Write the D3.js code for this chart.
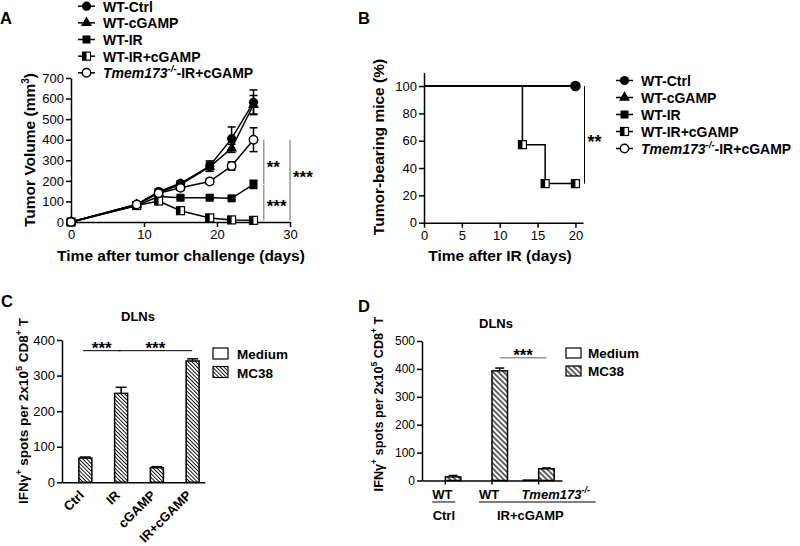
<!DOCTYPE html>
<html>
<head>
<meta charset="utf-8">
<script src="https://cdn.jsdelivr.net/npm/d3@7"></script>
<style>
  body { margin: 0; background: #fff; }
  svg { font-family: Arial, "Liberation Sans", sans-serif; }
</style>
</head>
<body>
<svg id="fig" width="800" height="546"></svg>
<script>
// ---- panel A: tumor volume over time ----
const tumorDays = [0, 9, 12, 15, 19, 22, 25];
const groupNames = ['WT-Ctrl', 'WT-cGAMP', 'WT-IR', 'WT-IR+cGAMP', 'Tmem173-/--IR+cGAMP'];
const wtCtrlVol = [0, 85, 148, 188, 272, 405, 582];
const wtCtrlErr = [0, 12, 14, 12, 25, 57, 60];
const wtCgampVol = [0, 85, 142, 182, 268, 358, 570];
const wtCgampErr = [0, 10, 12, 14, 22, 20, 45];
const wtIrVol = [0, 80, 124, 118, 118, 115, 183];
const wtIrErr = [0, 10, 10, 8, 8, 8, 20];
const wtIrCgampVol = [0, 80, 102, 55, 20, 10, 8];
const wtIrCgampErr = [0, 10, 10, 8, 8, 5, 5];
const tmemVol = [0, 85, 140, 166, 197, 272, 400];
const tmemErr = [0, 10, 12, 12, 12, 20, 58];
const markerTypes = ['circle', 'triangle', 'square', 'halfSquare', 'openCircle'];

// ---- panel B: tumor-bearing mice (%) ----
const survCtrlDays = [0, 20];
const survCtrl = [100, 100];
const survCgampDays = [0, 20];
const survCgamp = [100, 100];
const survIrDays = [0, 20];
const survIr = [100, 100];
const survIrCgampDays = [0, 13, 16, 20];
const survIrCgamp = [100, 57.1, 28.6, 28.6];
const survTmemDays = [0, 20];
const survTmem = [100, 100];

// ---- panel C: ELISPOT, DLNs ----
const cGroups = ['Ctrl', 'IR', 'cGAMP', 'IR+cGAMP'];
const cMedium = [0, 0, 0, 0];
const cMc38 = [68, 250, 41, 341];
const cMc38Err = [3, 17, 3, 6];

// ---- panel D: ELISPOT, DLNs by genotype ----
const dGroups = ['WT|Ctrl', 'WT|IR+cGAMP', 'Tmem173|IR+cGAMP'];
const dMedium = [0, 0, 2];
const dMc38 = [13, 393, 42];
const dMc38Err = [5, 10, 3];

const svg = d3.select('#fig');
const defs = svg.append('defs');

const hatch = (id, step, sw) => {
  const p = defs.append('pattern')
    .attr('id', id)
    .attr('patternUnits', 'userSpaceOnUse')
    .attr('width', step)
    .attr('height', step)
    .attr('patternTransform', 'rotate(-45)');
  p.append('rect').attr('width', step).attr('height', step).attr('fill', '#fff');
  p.append('line')
    .attr('x1', step / 2).attr('x2', step / 2)
    .attr('y1', 0).attr('y2', step)
    .attr('stroke', '#000').attr('stroke-width', sw);
};
hatch('hatchC', 2.7, 0.9);
hatch('hatchD', 3.8, 1.2);

const styleAxis = (g, size) => {
  g.attr('font-family', 'Arial, "Liberation Sans", sans-serif').attr('font-size', size);
  g.select('.domain').attr('stroke', '#000').attr('stroke-width', 1.5);
  g.selectAll('.tick line').attr('stroke', '#000').attr('stroke-width', 1.5);
  g.selectAll('.tick text').attr('fill', '#000');
};

const marker = (g, type, x, y) => {
  if (type === 'circle') {
    g.append('circle').attr('cx', x).attr('cy', y).attr('r', 4.6).attr('fill', '#000');
  } else if (type === 'openCircle') {
    g.append('circle').attr('cx', x).attr('cy', y).attr('r', 4.2)
      .attr('fill', '#fff').attr('stroke', '#000').attr('stroke-width', 1.5);
  } else if (type === 'triangle') {
    g.append('path')
      .attr('d', d3.symbol(d3.symbolTriangle, 52)())
      .attr('transform', `translate(${x},${y})`)
      .attr('fill', '#000');
  } else if (type === 'square') {
    g.append('rect').attr('x', x - 4).attr('y', y - 4).attr('width', 8).attr('height', 8).attr('fill', '#000');
  } else {
    g.append('rect').attr('x', x - 4).attr('y', y - 4).attr('width', 8).attr('height', 8)
      .attr('fill', '#fff').attr('stroke', '#000').attr('stroke-width', 1.2);
    g.append('rect').attr('x', x - 4).attr('y', y - 4).attr('width', 4).attr('height', 8).attr('fill', '#000');
  }
};

// group label, with Tmem173 in italics and -/- as superscript
const groupLabel = (text, name, supSize) => {
  if (name.startsWith('Tmem173')) {
    text.append('tspan').attr('font-style', 'italic').text('Tmem173');
    text.append('tspan').attr('font-style', 'italic').attr('font-size', supSize).attr('dy', -6).text('-/-');
    const rest = name.slice('Tmem173-/-'.length);
    if (rest) text.append('tspan').attr('dy', 6).text(rest);
  } else {
    text.text(name);
  }
};

const label = (x, y, str, size, opts = {}) => svg.append('text')
  .attr('x', x).attr('y', y)
  .attr('font-size', size)
  .attr('font-weight', opts.weight || 'bold')
  .attr('text-anchor', opts.anchor || 'start')
  .attr('fill', '#000')
  .text(str);

const rotLabel = (cx, cy, size) => svg.append('text')
  .attr('transform', `translate(${cx},${cy}) rotate(-90)`)
  .attr('text-anchor', 'middle')
  .attr('font-size', size)
  .attr('font-weight', 'bold');

const legend = (x, y0, dy) => {
  groupNames.forEach((name, i) => {
    const y = y0 + i * dy;
    const g = svg.append('g');
    g.append('line').attr('x1', x).attr('x2', x + 17).attr('y1', y - 5.5).attr('y2', y - 5.5)
      .attr('stroke', '#000').attr('stroke-width', 1.5);
    marker(g, markerTypes[i], x + 8.5, y - 5.5);
    const t = g.append('text').attr('x', x + 25).attr('y', y)
      .attr('font-size', 14).attr('font-weight', 'bold');
    groupLabel(t, name, 9.5);
  });
};

// ================= A =================
{
  const xA = d3.scaleLinear().domain([0, 30]).range([71, 290]);
  const yA = d3.scaleLinear().domain([0, 700]).range([222, 78]);

  svg.append('g').attr('transform', 'translate(0,222)')
    .call(d3.axisBottom(xA).tickValues([0, 10, 20, 30]).tickSize(5).tickSizeOuter(0).tickPadding(3))
    .call(g => styleAxis(g, 13));
  svg.append('g').attr('transform', 'translate(71,0)')
    .call(d3.axisLeft(yA).tickValues(d3.range(0, 701, 100)).tickSize(5).tickSizeOuter(0).tickPadding(2))
    .call(g => styleAxis(g, 13));

  const series = [
    { vol: wtCtrlVol, err: wtCtrlErr },
    { vol: wtCgampVol, err: wtCgampErr },
    { vol: wtIrVol, err: wtIrErr },
    { vol: wtIrCgampVol, err: wtIrCgampErr },
    { vol: tmemVol, err: tmemErr },
  ];
  const line = d3.line().x((d, i) => xA(tumorDays[i])).y(d => yA(d));
  const plot = svg.append('g');
  series.forEach(s => {
    plot.append('path').attr('d', line(s.vol)).attr('fill', 'none')
      .attr('stroke', '#000').attr('stroke-width', 1.5);
    s.vol.forEach((v, i) => {
      if (!s.err[i]) return;
      const x = xA(tumorDays[i]);
      const lo = yA(Math.max(0, v - s.err[i]));
      const hi = yA(v + s.err[i]);
      plot.append('line').attr('x1', x).attr('x2', x).attr('y1', lo).attr('y2', hi)
        .attr('stroke', '#000').attr('stroke-width', 1.5);
      [lo, hi].forEach(yy => plot.append('line').attr('x1', x - 4).attr('x2', x + 4)
        .attr('y1', yy).attr('y2', yy).attr('stroke', '#000').attr('stroke-width', 1.5));
    });
  });
  series.forEach((s, k) => {
    s.vol.forEach((v, i) => marker(plot, markerTypes[k], xA(tumorDays[i]), yA(v)));
  });

  // significance brackets (label baseline given in data units)
  const brackets = [
    { x: 26.4, from: 400, to: 186, at: 240, text: '**' },
    { x: 26.4, from: 180, to: 8, at: 51, text: '***' },
    { x: 30, from: 400, to: 8, at: 190, text: '***' },
  ];
  brackets.forEach(b => {
    svg.append('line').attr('x1', xA(b.x)).attr('x2', xA(b.x))
      .attr('y1', yA(b.from)).attr('y2', yA(b.to))
      .attr('stroke', '#999').attr('stroke-width', 1.5);
    label(xA(b.x) + 3, yA(b.at), b.text, 17);
  });

  label(0, 23.5, 'A', 16.5);
  legend(78, 11.7, 16.65);

  const yl = rotLabel(35, 150, 15.5);
  yl.append('tspan').text('Tumor Volume (mm');
  yl.append('tspan').attr('font-size', 10).attr('dy', -6).text('3');
  yl.append('tspan').attr('dy', 6).text(')');
  label(181, 261, 'Time after tumor challenge (days)', 15.5, { anchor: 'middle' });
}

// ================= B =================
{
  const xB = d3.scaleLinear().domain([0, 21]).range([424, 583]);
  const yB = d3.scaleLinear().domain([0, 110]).range([222.7, 72.4]);

  svg.append('g').attr('transform', 'translate(0,222.7)')
    .call(d3.axisBottom(xB).tickValues([0, 5, 10, 15, 20]).tickSize(5).tickSizeOuter(0).tickPadding(3))
    .call(g => styleAxis(g, 13));
  svg.append('g').attr('transform', 'translate(424,0)')
    .call(d3.axisLeft(yB).tickValues(d3.range(0, 101, 20)).tickSize(5).tickSizeOuter(0).tickPadding(2))
    .call(g => styleAxis(g, 13));

  const curves = [
    { days: survTmemDays, pct: survTmem, m: 4 },
    { days: survIrCgampDays, pct: survIrCgamp, m: 3 },
    { days: survIrDays, pct: survIr, m: 2 },
    { days: survCgampDays, pct: survCgamp, m: 1 },
    { days: survCtrlDays, pct: survCtrl, m: 0 },
  ];
  const step = d3.line().curve(d3.curveStepAfter)
    .x(d => xB(d[0])).y(d => yB(d[1]));
  const plot = svg.append('g');
  curves.forEach(c => {
    plot.append('path').attr('d', step(c.days.map((d, i) => [d, c.pct[i]])))
      .attr('fill', 'none').attr('stroke', '#000').attr('stroke-width', 1.5);
  });
  curves.forEach(c => {
    c.days.forEach((d, i) => {
      if (d === 0) return;
      if (c.m !== 0 && c.m !== 3) return; // hidden beneath the WT-Ctrl mark
      marker(plot, markerTypes[c.m], xB(d), yB(c.pct[i]));
    });
  });
  // Ctrl end mark drawn a touch larger, as in the figure
  plot.append('circle').attr('cx', xB(20)).attr('cy', yB(100)).attr('r', 5.3).attr('fill', '#000');

  svg.append('line').attr('x1', xB(21.2)).attr('x2', xB(21.2))
    .attr('y1', yB(100)).attr('y2', yB(28.6))
    .attr('stroke', '#000').attr('stroke-width', 1);
  label(xB(21.2) + 3, 148, '**', 18);

  label(358, 23.5, 'B', 16.5);
  legend(616, 86, 17);

  rotLabel(383.5, 147, 15.5).text('Tumor-bearing mice (%)');
  label(500, 261, 'Time after IR (days)', 15.5, { anchor: 'middle' });
}

// ================= C =================
{
  const xC = d3.scaleBand().domain(cGroups).range([62, 205]);
  const yC = d3.scaleLinear().domain([0, 400]).range([482.3, 340]);
  const bw = 13;

  const plot = svg.append('g');
  cGroups.forEach((grp, i) => {
    const c = xC(grp) + xC.bandwidth() / 2 - 1;
    if (cMedium[i] > 0) {
      plot.append('rect').attr('x', c - bw).attr('y', yC(cMedium[i])).attr('width', bw)
        .attr('height', yC(0) - yC(cMedium[i])).attr('fill', '#fff').attr('stroke', '#000').attr('stroke-width', 1.5);
    }
    const top = yC(cMc38[i]);
    const et = yC(cMc38[i] + cMc38Err[i]);
    plot.append('line').attr('x1', c + bw / 2).attr('x2', c + bw / 2).attr('y1', top).attr('y2', et)
      .attr('stroke', '#000').attr('stroke-width', 1.5);
    plot.append('line').attr('x1', c + 1).attr('x2', c + bw - 1).attr('y1', et).attr('y2', et)
      .attr('stroke', '#000').attr('stroke-width', 1.5);
    plot.append('rect').attr('x', c).attr('y', top).attr('width', bw)
      .attr('height', yC(0) - top).attr('fill', 'url(#hatchC)').attr('stroke', '#000').attr('stroke-width', 1.5);

    svg.append('text')
      .attr('transform', `translate(${c + 6},${496}) rotate(-45)`)
      .attr('text-anchor', 'end').attr('font-size', 13).attr('font-weight', 'bold')
      .text(grp);
  });

  svg.append('g').attr('transform', 'translate(0,482.3)')
    .call(d3.axisBottom(xC).tickSize(0).tickSizeOuter(0).tickFormat(''))
    .call(g => styleAxis(g, 13));
  svg.append('g').attr('transform', 'translate(62,0)')
    .call(d3.axisLeft(yC).tickValues(d3.range(0, 401, 100)).tickSize(5).tickSizeOuter(0).tickPadding(2))
    .call(g => styleAxis(g, 13));

  const sig = [['Ctrl', 'IR'], ['IR', 'IR+cGAMP']];
  sig.forEach(([a, b]) => {
    const x1 = xC(a) + xC.bandwidth() / 2 + 3;
    const x2 = xC(b) + xC.bandwidth() / 2 + 5;
    svg.append('line').attr('x1', x1).attr('x2', x2).attr('y1', yC(370)).attr('y2', yC(370))
      .attr('stroke', '#000').attr('stroke-width', 1);
    label((x1 + x2) / 2, yC(370) + 3, '***', 17, { anchor: 'middle' });
  });

  label(138, 321, 'DLNs', 13, { anchor: 'middle' });
  label(1, 307, 'C', 16.5);

  [['Medium', '#fff'], ['MC38', 'url(#hatchC)']].forEach(([name, fill], i) => {
    svg.append('rect').attr('x', 213).attr('y', 348 + i * 18.5).attr('width', 15).attr('height', 11)
      .attr('fill', fill).attr('stroke', '#000').attr('stroke-width', 1.2);
    label(237, 359 + i * 18.5, name, 13.5);
  });

  const yl = rotLabel(28, 411, 13.5);
  yl.append('tspan').text('IFNγ');
  yl.append('tspan').attr('font-size', 9).attr('dy', -6).text('+');
  yl.append('tspan').attr('dy', 6).text(' spots per 2x10');
  yl.append('tspan').attr('font-size', 9).attr('dy', -6).text('5');
  yl.append('tspan').attr('dy', 6).text(' CD8');
  yl.append('tspan').attr('font-size', 9).attr('dy', -6).text('+');
  yl.append('tspan').attr('dy', 6).text(' T');
}

// ================= D =================
{
  const xD = d3.scaleBand().domain(dGroups).range([422, 562]);
  const yD = d3.scaleLinear().domain([0, 500]).range([480.5, 341]);
  const bw = 15.5;

  const plot = svg.append('g');
  dGroups.forEach((grp, i) => {
    const c = xD(grp) + xD.bandwidth() / 2;
    if (dMedium[i] > 0) {
      plot.append('rect').attr('x', c - bw).attr('y', yD(dMedium[i])).attr('width', bw)
        .attr('height', yD(0) - yD(dMedium[i])).attr('fill', '#fff').attr('stroke', '#000').attr('stroke-width', 1.2);
    }
    const top = yD(dMc38[i]);
    const et = yD(dMc38[i] + dMc38Err[i]);
    plot.append('line').attr('x1', c + bw / 2).attr('x2', c + bw / 2).attr('y1', top).attr('y2', et)
      .attr('stroke', '#000').attr('stroke-width', 1.5);
    plot.append('line').attr('x1', c + bw / 2 - 4.5).attr('x2', c + bw / 2 + 4.5).attr('y1', et).attr('y2', et)
      .attr('stroke', '#000').attr('stroke-width', 1.5);
    plot.append('rect').attr('x', c).attr('y', top).attr('width', bw)
      .attr('height', yD(0) - top).attr('fill', 'url(#hatchD)').attr('stroke', '#000').attr('stroke-width', 1.5);
  });

  svg.append('g').attr('transform', 'translate(0,480.5)')
    .call(d3.axisBottom(xD).tickSize(4).tickSizeOuter(0).tickFormat(''))
    .call(g => styleAxis(g, 12));
  svg.append('g').attr('transform', 'translate(422,0)')
    .call(d3.axisLeft(yD).tickValues(d3.range(0, 501, 100)).tickSize(5).tickSizeOuter(0).tickPadding(2))
    .call(g => styleAxis(g, 12));

  // genotype row, then treatment row with underline
  dGroups.forEach(grp => {
    const c = xD(grp) + xD.bandwidth() / 2;
    const geno = grp.split('|')[0];
    const t = svg.append('text').attr('x', geno === 'WT' ? c - 3 : c + 17).attr('y', 499)
      .attr('text-anchor', 'middle').attr('font-size', 13).attr('font-weight', 'bold');
    groupLabel(t, geno === 'WT' ? 'WT' : 'Tmem173-/-', 9);
  });
  const treatments = ['Ctrl', 'IR+cGAMP'];
  treatments.forEach(tr => {
    const members = dGroups.filter(g => g.split('|')[1] === tr);
    const x1 = xD(members[0]) + xD.bandwidth() / 2 - 13;
    const x2 = members.length > 1 ? xD(members[members.length - 1]) + xD.bandwidth() / 2 + 57 : x1 + 23;
    svg.append('line').attr('x1', x1).attr('x2', x2).attr('y1', 502).attr('y2', 502)
      .attr('stroke', '#000').attr('stroke-width', 1);
    const tx = members.length > 1 ? (x1 + x2) / 2 - 7 : (x1 + x2) / 2;
    label(tx, 520, tr, 13, { anchor: 'middle' });
  });

  const a = xD(dGroups[1]) + xD.bandwidth() / 2 + bw / 2;
  const b = xD(dGroups[2]) + xD.bandwidth() / 2 + bw / 2;
  svg.append('line').attr('x1', a).attr('x2', b).attr('y1', yD(440)).attr('y2', yD(440))
    .attr('stroke', '#999').attr('stroke-width', 1.5);
  label((a + b) / 2, yD(440) + 3, '***', 17, { anchor: 'middle' });

  label(496, 328, 'DLNs', 13, { anchor: 'middle' });
  label(358, 312, 'D', 16.5);

  [['Medium', '#fff'], ['MC38', 'url(#hatchD)']].forEach(([name, fill], i) => {
    svg.append('rect').attr('x', 566).attr('y', 348 + i * 18).attr('width', 15).attr('height', 10)
      .attr('fill', fill).attr('stroke', '#000').attr('stroke-width', 1.2);
    label(588, 358 + i * 17.5, name, 13.5);
  });

  const yl = rotLabel(383, 404, 12.7);
  yl.append('tspan').text('IFNγ');
  yl.append('tspan').attr('font-size', 8.5).attr('dy', -6).text('+');
  yl.append('tspan').attr('dy', 6).text(' spots per 2x10');
  yl.append('tspan').attr('font-size', 8.5).attr('dy', -6).text('5');
  yl.append('tspan').attr('dy', 6).text(' CD8');
  yl.append('tspan').attr('font-size', 8.5).attr('dy', -6).text('+');
  yl.append('tspan').attr('dy', 6).text(' T');
}
</script>
</body>
</html>
